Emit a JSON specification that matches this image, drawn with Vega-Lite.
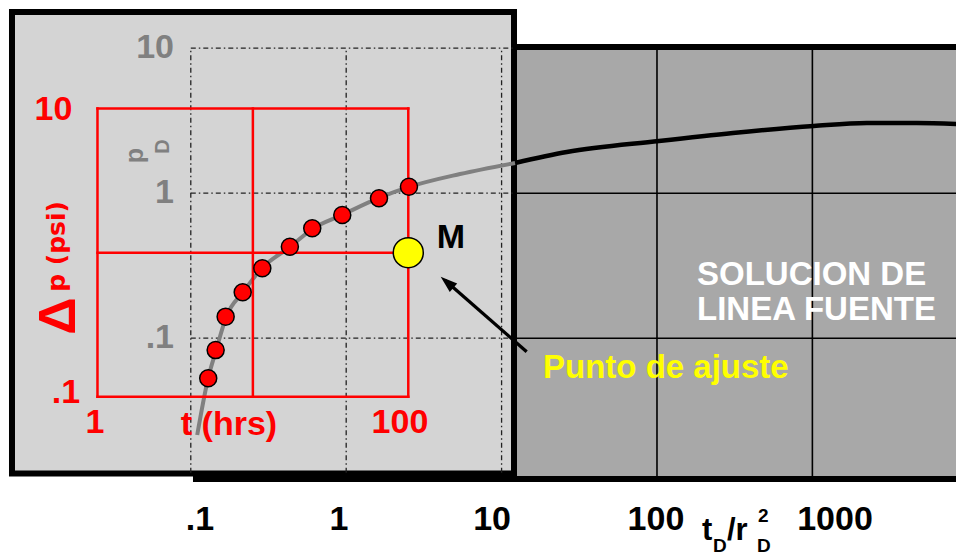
{
  "$schema": "https://vega.github.io/schema/vega-lite/v6.json",
  "width": 956,
  "height": 557,
  "padding": 0,
  "autosize": {"type": "none"},
  "background": "#ffffff",
  "config": {"view": {"stroke": null}, "text": {"font": "Liberation Sans", "fontWeight": "bold"}},
  "datasets": {
    "typeCurve": [
      {"tD": 0.110, "pD": 0.0215, "part": "gray"},
      {"tD": 0.1294, "pD": 0.0531, "part": "gray"},
      {"tD": 0.1457, "pD": 0.0829, "part": "gray"},
      {"tD": 0.1689, "pD": 0.140, "part": "gray"},
      {"tD": 0.2173, "pD": 0.208, "part": "gray"},
      {"tD": 0.2878, "pD": 0.305, "part": "gray"},
      {"tD": 0.4357, "pD": 0.426, "part": "gray"},
      {"tD": 0.6036, "pD": 0.566, "part": "gray"},
      {"tD": 0.941, "pD": 0.708, "part": "gray"},
      {"tD": 1.627, "pD": 0.927, "part": "gray"},
      {"tD": 2.538, "pD": 1.104, "part": "gray"},
      {"tD": 5.40, "pD": 1.356, "part": "gray"},
      {"tD": 12.2, "pD": 1.615, "part": "gray"},
      {"tD": 12.2, "pD": 1.615, "part": "black"},
      {"tD": 26.3, "pD": 1.923, "part": "black"},
      {"tD": 103, "pD": 2.291, "part": "black"},
      {"tD": 308, "pD": 2.601, "part": "black"},
      {"tD": 1021, "pD": 2.907, "part": "black"},
      {"tD": 2238, "pD": 3.049, "part": "black"},
      {"tD": 4692, "pD": 3.049, "part": "black"},
      {"tD": 9000, "pD": 2.99, "part": "black"}
    ],
    "fieldData": [
      {"t": 5.16, "dp": 0.1345},
      {"t": 5.76, "dp": 0.211},
      {"t": 6.68, "dp": 0.360},
      {"t": 8.60, "dp": 0.531},
      {"t": 11.5, "dp": 0.779},
      {"t": 17.3, "dp": 1.10},
      {"t": 24.1, "dp": 1.476},
      {"t": 37.6, "dp": 1.825},
      {"t": 64.8, "dp": 2.383},
      {"t": 101, "dp": 2.868}
    ]
  },
  "layer": [
    {
      "encoding": {
        "x": {"field": "tD", "type": "quantitative", "scale": {"type": "log", "domain": [0.005919, 8398], "nice": false}, "axis": null},
        "y": {"field": "pD", "type": "quantitative", "scale": {"type": "log", "domain": [0.003097, 21.5], "nice": false}, "axis": null}
      },
      "layer": [
        {
          "data": {"values": [{"tD": 0.108, "tD_end": 20000, "pD": 0.01069, "pD_end": 10.19}]},
          "mark": {"type": "rect", "fill": "#a8a8a8", "stroke": "#000000", "strokeWidth": 6},
          "encoding": {"x2": {"field": "tD_end"}, "y2": {"field": "pD_end"}}
        },
        {
          "data": {"values": [
            {"tD": 100, "tD_end": 100, "pD": 0.0107, "pD_end": 10.19},
            {"tD": 1000, "tD_end": 1000, "pD": 0.0107, "pD_end": 10.19},
            {"tD": 12, "tD_end": 9000, "pD": 1, "pD_end": 1},
            {"tD": 12, "tD_end": 9000, "pD": 0.1, "pD_end": 0.1}
          ]},
          "mark": {"type": "rule", "stroke": "#000000", "strokeWidth": 1.6},
          "encoding": {"x2": {"field": "tD_end"}, "y2": {"field": "pD_end"}}
        },
        {
          "data": {"name": "typeCurve"},
          "transform": [{"filter": "datum.part === 'black'"}],
          "mark": {"type": "line", "color": "#000000", "strokeWidth": 4.5, "interpolate": "monotone"},
          "encoding": {}
        },
        {
          "data": {"values": [{"tD": 0.00707, "tD_end": 12.02, "pD": 0.01167, "pD_end": 17.77}]},
          "mark": {"type": "rect", "fill": "#d4d4d4", "stroke": "#000000", "strokeWidth": 6},
          "encoding": {"x2": {"field": "tD_end"}, "y2": {"field": "pD_end"}}
        },
        {
          "data": {"values": [
            {"tD": 0.1, "tD_end": 0.1, "pD": 0.0118, "pD_end": 10},
            {"tD": 1, "tD_end": 1, "pD": 0.0118, "pD_end": 10},
            {"tD": 10, "tD_end": 10, "pD": 0.0118, "pD_end": 10},
            {"tD": 0.1, "tD_end": 12, "pD": 10, "pD_end": 10},
            {"tD": 0.1, "tD_end": 12, "pD": 1, "pD_end": 1},
            {"tD": 0.1, "tD_end": 12, "pD": 0.1, "pD_end": 0.1}
          ]},
          "mark": {"type": "rule", "stroke": "#222222", "strokeWidth": 1.3, "strokeDash": [5, 3, 1.5, 3]},
          "encoding": {"x2": {"field": "tD_end"}, "y2": {"field": "pD_end"}}
        },
        {
          "data": {"name": "typeCurve"},
          "transform": [{"filter": "datum.part === 'gray'"}],
          "mark": {"type": "line", "color": "#808080", "strokeWidth": 4, "interpolate": "monotone"},
          "encoding": {}
        },
        {
          "data": {"values": [
            {"tD": 0.078, "pD": 10, "label": "10"},
            {"tD": 0.078, "pD": 1, "label": "1"},
            {"tD": 0.078, "pD": 0.1, "label": ".1"}
          ]},
          "mark": {"type": "text", "align": "right", "baseline": "middle", "fontSize": 34, "color": "#808080"},
          "encoding": {"text": {"field": "label"}}
        },
        {
          "data": {"values": [{"tD": 0.0436, "pD": 1.82, "label": "p"}]},
          "mark": {"type": "text", "align": "center", "baseline": "middle", "fontSize": 25, "angle": 270, "color": "#808080"},
          "encoding": {"text": {"field": "label"}}
        },
        {
          "data": {"values": [{"tD": 0.0662, "pD": 2.10, "label": "D"}]},
          "mark": {"type": "text", "align": "center", "baseline": "middle", "fontSize": 20, "angle": 270, "color": "#808080"},
          "encoding": {"text": {"field": "label"}}
        },
        {
          "data": {"values": [
            {"tD": 0.1146, "pD": 0.005575, "label": ".1"},
            {"tD": 0.899, "pD": 0.005575, "label": "1"},
            {"tD": 8.68, "pD": 0.005575, "label": "10"},
            {"tD": 98.5, "pD": 0.005575, "label": "100"},
            {"tD": 1398, "pD": 0.005575, "label": "1000"}
          ]},
          "mark": {"type": "text", "align": "center", "baseline": "middle", "fontSize": 34, "color": "#000000"},
          "encoding": {"text": {"field": "label"}}
        },
        {
          "data": {"values": [
            {"tD": 194.8, "pD": 0.004058, "label": "t"},
            {"tD": 282.2, "pD": 0.004058, "label": "/r"}
          ]},
          "mark": {"type": "text", "align": "left", "baseline": "alphabetic", "fontSize": 31, "color": "#000000"},
          "encoding": {"text": {"field": "label"}}
        },
        {
          "data": {"values": [
            {"tD": 229.3, "pD": 0.003353, "label": "D"},
            {"tD": 440.1, "pD": 0.003353, "label": "D"},
            {"tD": 446.7, "pD": 0.005399, "label": "2"}
          ]},
          "mark": {"type": "text", "align": "left", "baseline": "alphabetic", "fontSize": 19, "color": "#000000"},
          "encoding": {"text": {"field": "label"}}
        },
        {
          "data": {"values": [{"tD": 18.47, "pD": 0.06187, "label": "Punto de ajuste"}]},
          "mark": {"type": "text", "align": "left", "baseline": "middle", "fontSize": 33, "color": "#ffff00"},
          "encoding": {"text": {"field": "label"}}
        },
        {
          "data": {"values": [
            {"tD": 180.9, "pD": 0.2728, "label": "SOLUCION DE"},
            {"tD": 180.9, "pD": 0.1565, "label": "LINEA FUENTE"}
          ]},
          "mark": {"type": "text", "align": "left", "baseline": "middle", "fontSize": 33, "color": "#ffffff"},
          "encoding": {"text": {"field": "label"}}
        },
        {
          "data": {"values": [{"tD": 4.34, "pD": 0.250, "tD_end": 14.5, "pD_end": 0.0807}]},
          "mark": {"type": "rule", "stroke": "#000000", "strokeWidth": 3.3},
          "encoding": {"x2": {"field": "tD_end"}, "y2": {"field": "pD_end"}}
        },
        {
          "data": {"values": [{"tD": 4.056, "pD": 0.2655}]},
          "mark": {"type": "point", "shape": "M0,0L0.8,2.4L-0.8,2.4Z", "size": 200, "angle": 311, "filled": true, "color": "#000000", "opacity": 1},
          "encoding": {}
        }
      ]
    },
    {
      "encoding": {
        "x": {"field": "t", "type": "quantitative", "scale": {"type": "log", "domain": [0.2359, 334600], "nice": false}, "axis": null},
        "y": {"field": "dp", "type": "quantitative", "scale": {"type": "log", "domain": [0.007754, 56.52], "nice": false}, "axis": null}
      },
      "layer": [
        {
          "data": {"values": [
            {"t": 1, "t_end": 1, "dp": 0.1, "dp_end": 10},
            {"t": 10, "t_end": 10, "dp": 0.1, "dp_end": 10},
            {"t": 100, "t_end": 100, "dp": 0.1, "dp_end": 10},
            {"t": 1, "t_end": 100, "dp": 0.1, "dp_end": 0.1},
            {"t": 1, "t_end": 100, "dp": 1, "dp_end": 1},
            {"t": 1, "t_end": 100, "dp": 10, "dp_end": 10}
          ]},
          "mark": {"type": "rule", "stroke": "#ff0000", "strokeWidth": 2.5, "strokeCap": "square"},
          "encoding": {"x2": {"field": "t_end"}, "y2": {"field": "dp_end"}}
        },
        {
          "data": {"name": "fieldData"},
          "mark": {"type": "point", "shape": "circle", "filled": true, "fill": "#ff0000", "stroke": "#000000", "strokeWidth": 1.5, "size": 290, "opacity": 1},
          "encoding": {}
        },
        {
          "data": {"values": [{"t": 100, "dp": 1}]},
          "mark": {"type": "point", "shape": "circle", "filled": true, "fill": "#ffff00", "stroke": "#000000", "strokeWidth": 1.5, "size": 900, "opacity": 1},
          "encoding": {}
        },
        {
          "data": {"values": [
            {"t": 0.521, "dp": 9.79, "label": "10"},
            {"t": 0.627, "dp": 0.1067, "label": ".1"},
            {"t": 0.9636, "dp": 0.0661, "label": "1"},
            {"t": 88.4, "dp": 0.0661, "label": "100"},
            {"t": 7.02, "dp": 0.0640, "label": "t (hrs)"}
          ]},
          "mark": {"type": "text", "align": "center", "baseline": "middle", "fontSize": 34, "color": "#ff0000"},
          "encoding": {"text": {"field": "label"}}
        },
        {
          "data": {"values": [{"t": 0.5685, "dp": 0.3638, "label": "Δ"}]},
          "mark": {"type": "text", "align": "center", "baseline": "middle", "fontSize": 52, "angle": 270, "color": "#ff0000"},
          "encoding": {"text": {"field": "label"}}
        },
        {
          "data": {"values": [{"t": 0.5527, "dp": 1.104, "label": "p (psi)"}]},
          "mark": {"type": "text", "font": "DejaVu Sans", "align": "center", "baseline": "middle", "fontSize": 25, "angle": 270, "color": "#ff0000"},
          "encoding": {"text": {"field": "label"}}
        },
        {
          "data": {"values": [{"t": 188.3, "dp": 1.268, "label": "M"}]},
          "mark": {"type": "text", "align": "center", "baseline": "middle", "fontSize": 34, "color": "#000000"},
          "encoding": {"text": {"field": "label"}}
        }
      ]
    }
  ],
  "resolve": {"scale": {"x": "independent", "y": "independent"}}
}
